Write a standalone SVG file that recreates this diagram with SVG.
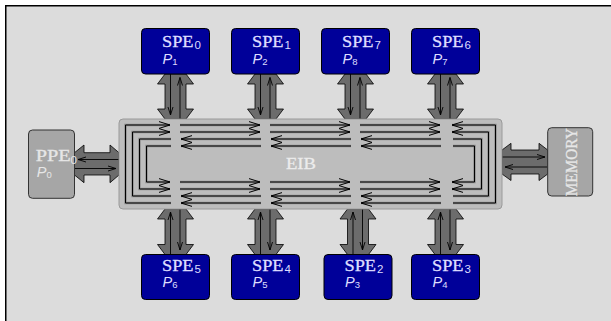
<svg xmlns="http://www.w3.org/2000/svg" width="611" height="321" viewBox="0 0 611 321">
<style>
.spe{fill:#000099;stroke:#000;stroke-width:1}
.gbox{fill:#a6a6a6;stroke:#333;stroke-width:1}
.eib{fill:#bdbdbd;stroke:#9a9a9a;stroke-width:1}
.blk{fill:#6c6c6c;stroke:#000;stroke-width:0.8;stroke-linejoin:miter}
.ringu{fill:none;stroke:#8e8e8e;stroke-width:2.4}
.rm{fill:none;stroke:#000;stroke-width:1;marker-end:url(#ah)}
.rs{fill:none;stroke:#000;stroke-width:1;marker-start:url(#ah)}
.tm{fill:none;stroke:#000;stroke-width:0.9;marker-end:url(#sh)}
.ser{font-family:"Liberation Serif","DejaVu Serif",serif;font-size:16.5px;stroke-width:0.3}
.san{font-family:"Liberation Sans","DejaVu Sans",sans-serif}
.lt{fill:#dedeff}
.lts{fill:#dedeff;stroke:#dedeff}
.lg{fill:#e6e6e6}
.lgs{fill:#e6e6e6;stroke:#e6e6e6}
</style>
<defs>
<marker id="ah" viewBox="-12 -5 13 10" refX="0" refY="0" markerWidth="13" markerHeight="10" orient="auto-start-reverse" markerUnits="userSpaceOnUse">
<path d="M-11,-3.4 L0,0 L-11,3.4" fill="none" stroke="#000" stroke-width="1"/>
</marker>
<marker id="sh" viewBox="-10 -4 11 8" refX="0" refY="0" markerWidth="11" markerHeight="8" orient="auto-start-reverse" markerUnits="userSpaceOnUse">
<path d="M-8,-2.5 L0,0 L-8,2.5" fill="none" stroke="#000" stroke-width="0.9"/>
</marker>
</defs>
<rect x="0" y="0" width="611" height="321" fill="#fff"/>
<rect x="5.75" y="5.75" width="700" height="400" fill="#dcdcdc" stroke="#000" stroke-width="1.5"/>

<g id="connectors">
<g id="c-spe0">
<polygon class="blk" points="165,74 186,74 193.5,84 186,84 186,109 193.5,109 186,119 165,119 157.5,109 165,109 165,84 157.5,84"/>
<path class="tm" d="M170.5,74 V115"/><path class="tm" d="M180,119 V77.5"/>
</g>
<g id="c-spe1">
<polygon class="blk" points="255,74 276,74 283.5,84 276,84 276,109 283.5,109 276,119 255,119 247.5,109 255,109 255,84 247.5,84"/>
<path class="tm" d="M260.5,74 V115"/><path class="tm" d="M270,119 V77.5"/>
</g>
<g id="c-spe7">
<polygon class="blk" points="345,74 366,74 373.5,84 366,84 366,109 373.5,109 366,119 345,119 337.5,109 345,109 345,84 337.5,84"/>
<path class="tm" d="M350.5,74 V115"/><path class="tm" d="M360,119 V77.5"/>
</g>
<g id="c-spe6">
<polygon class="blk" points="435,74 456,74 463.5,84 456,84 456,109 463.5,109 456,119 435,119 427.5,109 435,109 435,84 427.5,84"/>
<path class="tm" d="M440.5,74 V115"/><path class="tm" d="M450,119 V77.5"/>
</g>
<g id="c-spe5">
<polygon class="blk" points="165,209 186,209 193.5,219 186,219 186,244.5 193.5,244.5 186,254.5 165,254.5 157.5,244.5 165,244.5 165,219 157.5,219"/>
<path class="tm" d="M170.5,254.5 V212"/><path class="tm" d="M180,209 V250"/>
</g>
<g id="c-spe4">
<polygon class="blk" points="255,209 276,209 283.5,219 276,219 276,244.5 283.5,244.5 276,254.5 255,254.5 247.5,244.5 255,244.5 255,219 247.5,219"/>
<path class="tm" d="M260.5,254.5 V212"/><path class="tm" d="M270,209 V250"/>
</g>
<g id="c-spe2">
<polygon class="blk" points="347.5,209 368.5,209 376,219 368.5,219 368.5,244.5 376,244.5 368.5,254.5 347.5,254.5 340,244.5 347.5,244.5 347.5,219 340,219"/>
<path class="tm" d="M353,254.5 V212"/><path class="tm" d="M362.5,209 V250"/>
</g>
<g id="c-spe3">
<polygon class="blk" points="435,209 456,209 463.5,219 456,219 456,244.5 463.5,244.5 456,254.5 435,254.5 427.5,244.5 435,244.5 435,219 427.5,219"/>
<path class="tm" d="M440.5,254.5 V212"/><path class="tm" d="M450,209 V250"/>
</g>
<g id="c-ppe">
<polygon class="blk" points="74.5,152.7 84,145 84,152.7 110,152.7 110,145 119,152.7 119,175 110,182.7 110,175 84,175 84,182.7 74.5,175"/>
<path class="tm" d="M119,159.5 H78"/><path class="tm" d="M74.5,168.5 H116"/>
</g>
<g id="c-mem">
<polygon class="blk" points="502,150 511,143.3 511,150 539,150 539,143.3 547.7,150 547.7,174 539,180.5 539,174 511,174 511,180.5 502,174"/>
<path class="tm" d="M502,157 H545"/><path class="tm" d="M547.7,167 H505"/>
</g>
</g>

<g id="SPE0"><rect class="spe" x="141.5" y="28.5" width="68" height="45.5" rx="4"/>
<text class="ser lts" x="162" y="46.7" textLength="31.5" lengthAdjust="spacingAndGlyphs">SPE</text><text class="san lt" x="194.5" y="49.3" font-size="11.5">0</text>
<text class="san lt" x="162.5" y="63.5" font-size="14.5" font-style="italic">P</text><text class="san lt" x="172.3" y="64.5" font-size="9.5">1</text></g>
<g id="SPE1"><rect class="spe" x="231.5" y="28.5" width="68" height="45.5" rx="4"/>
<text class="ser lts" x="252" y="46.7" textLength="31.5" lengthAdjust="spacingAndGlyphs">SPE</text><text class="san lt" x="284.5" y="49.3" font-size="11.5">1</text>
<text class="san lt" x="252.5" y="63.5" font-size="14.5" font-style="italic">P</text><text class="san lt" x="262.3" y="64.5" font-size="9.5">2</text></g>
<g id="SPE7"><rect class="spe" x="321.5" y="28.5" width="68" height="45.5" rx="4"/>
<text class="ser lts" x="342" y="46.7" textLength="31.5" lengthAdjust="spacingAndGlyphs">SPE</text><text class="san lt" x="374.5" y="49.3" font-size="11.5">7</text>
<text class="san lt" x="342.5" y="63.5" font-size="14.5" font-style="italic">P</text><text class="san lt" x="352.3" y="64.5" font-size="9.5">8</text></g>
<g id="SPE6"><rect class="spe" x="411.5" y="28.5" width="68" height="45.5" rx="4"/>
<text class="ser lts" x="432" y="46.7" textLength="31.5" lengthAdjust="spacingAndGlyphs">SPE</text><text class="san lt" x="464.5" y="49.3" font-size="11.5">6</text>
<text class="san lt" x="432.5" y="63.5" font-size="14.5" font-style="italic">P</text><text class="san lt" x="442.3" y="64.5" font-size="9.5">7</text></g>

<g id="SPE5"><rect class="spe" x="141.5" y="254.5" width="68" height="45" rx="4"/>
<text class="ser lts" x="162" y="270.7" textLength="31.5" lengthAdjust="spacingAndGlyphs">SPE</text><text class="san lt" x="194.5" y="273.3" font-size="11.5">5</text>
<text class="san lt" x="162.5" y="286.7" font-size="14.5" font-style="italic">P</text><text class="san lt" x="172.3" y="287.7" font-size="9.5">6</text></g>
<g id="SPE4"><rect class="spe" x="231.5" y="254.5" width="68" height="45" rx="4"/>
<text class="ser lts" x="252" y="270.7" textLength="31.5" lengthAdjust="spacingAndGlyphs">SPE</text><text class="san lt" x="284.5" y="273.3" font-size="11.5">4</text>
<text class="san lt" x="252.5" y="286.7" font-size="14.5" font-style="italic">P</text><text class="san lt" x="262.3" y="287.7" font-size="9.5">5</text></g>
<g id="SPE2"><rect class="spe" x="324" y="254.5" width="68" height="45" rx="4"/>
<text class="ser lts" x="344.5" y="270.7" textLength="31.5" lengthAdjust="spacingAndGlyphs">SPE</text><text class="san lt" x="377" y="273.3" font-size="11.5">2</text>
<text class="san lt" x="345" y="286.7" font-size="14.5" font-style="italic">P</text><text class="san lt" x="354.8" y="287.7" font-size="9.5">3</text></g>
<g id="SPE3"><rect class="spe" x="411.5" y="254.5" width="68" height="45" rx="4"/>
<text class="ser lts" x="432" y="270.7" textLength="31.5" lengthAdjust="spacingAndGlyphs">SPE</text><text class="san lt" x="464.5" y="273.3" font-size="11.5">3</text>
<text class="san lt" x="432.5" y="286.7" font-size="14.5" font-style="italic">P</text><text class="san lt" x="442.3" y="287.7" font-size="9.5">4</text></g>

<g id="PPE"><rect class="gbox" x="28.5" y="130" width="46" height="68.3" rx="4"/>
<text class="ser lgs" x="35.7" y="161" font-size="17.5" textLength="35" lengthAdjust="spacingAndGlyphs">PPE</text><text class="san lg" x="70.5" y="163.5" font-size="11.5">0</text>
<text class="san lg" x="36.7" y="176.7" font-size="14.5" font-style="italic">P</text><text class="san lg" x="46.5" y="177.7" font-size="9.5">0</text></g>

<g id="MEMORY"><rect class="gbox" x="547.7" y="127.7" width="45" height="68.3" rx="4"/>
<text class="ser lgs" x="0" y="0" font-size="14.5" text-anchor="middle" textLength="68" lengthAdjust="spacingAndGlyphs" transform="translate(577.3,162.3) rotate(-90)">MEMORY</text></g>

<g id="EIB"><rect class="eib" x="119" y="119" width="383" height="90" rx="4"/>
<text class="ser" x="301" y="168.7" text-anchor="middle" textLength="30" lengthAdjust="spacingAndGlyphs" fill="#ececec" stroke="#ececec">EIB</text>
<g class="ringu">
<path d="M171,203 H125.5 V125 H170"/><path d="M171,196 H132.5 V132 H170"/>
<path d="M171,139 H139.5 V189 H170"/><path d="M171,146 H146.5 V182 H170"/>
<path d="M452,125 H495.5 V203 H453"/><path d="M452,132 H488.5 V196 H453"/>
<path d="M453,139 H481.5 V189 H452"/><path d="M453,146 H474.5 V182 H452"/>
<path d="M180,125 H260 M270,125 H350 M360,125 H440 M180,132 H260 M270,132 H350 M360,132 H440"/>
<path d="M181,139 H261 M271,139 H351 M361,139 H441 M181,146 H261 M271,146 H351 M361,146 H441"/>
<path d="M180,182 H260 M270,182 H350 M360,182 H440 M180,189 H260 M270,189 H350 M360,189 H440"/>
<path d="M181,196 H261 M271,196 H351 M361,196 H441 M181,203 H261 M271,203 H351 M361,203 H441"/>
</g>
<path class="rm" d="M171,203 H125.5 V125 H170"/>
<path class="rm" d="M171,196 H132.5 V132 H170"/>
<path class="rm" d="M180,125 H260"/><path class="rm" d="M270,125 H350"/><path class="rm" d="M360,125 H440"/>
<path class="rm" d="M180,132 H260"/><path class="rm" d="M270,132 H350"/><path class="rm" d="M360,132 H440"/>
<path class="rm" d="M261,203 H181"/><path class="rm" d="M351,203 H271"/><path class="rm" d="M441,203 H361"/>
<path class="rm" d="M261,196 H181"/><path class="rm" d="M351,196 H271"/><path class="rm" d="M441,196 H361"/>
<path class="rs" d="M452,125 H495.5 V203 H453"/>
<path class="rs" d="M452,132 H488.5 V196 H453"/>
<path class="rm" d="M171,139 H139.5 V189 H170"/>
<path class="rm" d="M171,146 H146.5 V182 H170"/>
<path class="rm" d="M261,139 H181"/><path class="rm" d="M351,139 H271"/><path class="rm" d="M441,139 H361"/>
<path class="rm" d="M261,146 H181"/><path class="rm" d="M351,146 H271"/><path class="rm" d="M441,146 H361"/>
<path class="rm" d="M180,182 H260"/><path class="rm" d="M270,182 H350"/><path class="rm" d="M360,182 H440"/>
<path class="rm" d="M180,189 H260"/><path class="rm" d="M270,189 H350"/><path class="rm" d="M360,189 H440"/>
<path class="rm" d="M453,139 H481.5 V189 H452"/>
<path class="rm" d="M453,146 H474.5 V182 H452"/>
</g>
</svg>
